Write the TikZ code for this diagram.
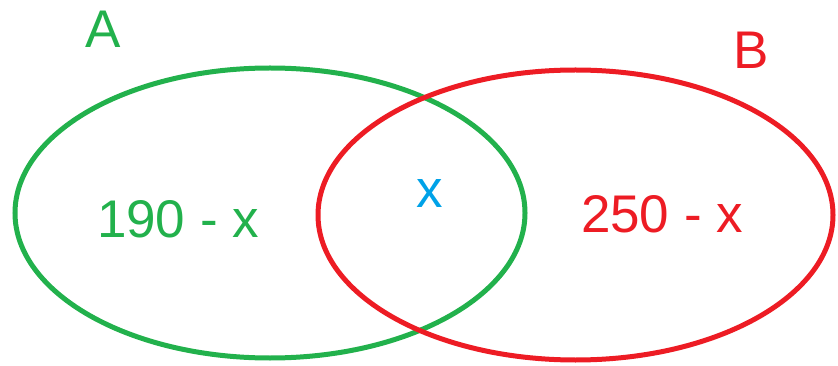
\documentclass[tikz,border=0pt]{standalone}
\usepackage{fontspec}
\setmainfont{Liberation Sans}
\definecolor{pgreen}{HTML}{22B14C}
\definecolor{pred}{HTML}{ED1C24}
\definecolor{pblue}{HTML}{00A2E8}
\begin{document}
\begin{tikzpicture}[x=1pt,y=-1pt,
  lbl/.style={inner sep=0pt,outer sep=0pt,anchor=base west,font=\fontsize{53}{60}\selectfont},
  ring/.style={line width=5pt}]
\useasboundingbox (0,0) rectangle (838,366);
\draw[ring,pgreen] (270,213) ellipse [x radius=255, y radius=145];
\draw[ring,pred] (575.5,215) ellipse [x radius=257.5, y radius=145];
\node[lbl,text=pgreen] (A) at (85,48) {A};
\node[lbl,text=pred] (B) at (733,69) {B};
\node[lbl,text=pgreen] (left) at (97,237) {190 - x};
\node[lbl,text=pblue] (mid) at (416,208) {x};
\node[lbl,text=pred] (right) at (581,233) {250 - x};
\end{tikzpicture}
\end{document}
